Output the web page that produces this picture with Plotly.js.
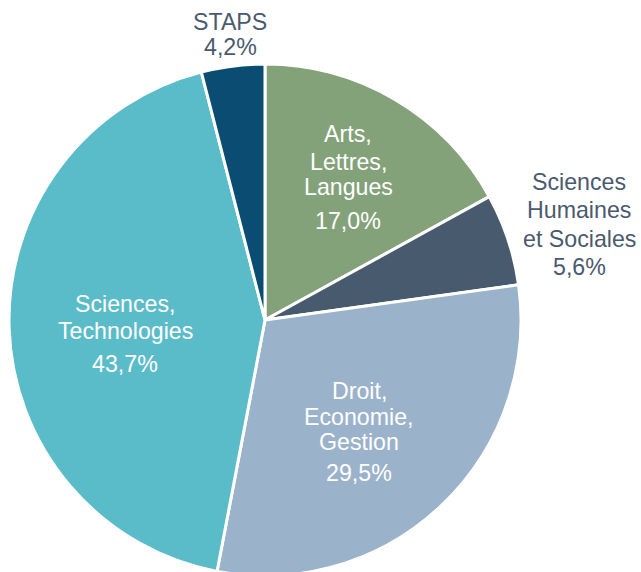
<!DOCTYPE html>
<html><head><meta charset="utf-8">
<script src="https://cdn.plot.ly/plotly-3.0.1.min.js"></script>
<style>html,body{margin:0;padding:0;overflow:hidden;background:#fff}</style>
</head><body><div id="chart"></div>
<script>
// Categories in drawing order (clockwise from 12 o'clock)
const categories = ["Arts, Lettres, Langues", "Sciences Humaines et Sociales", "Droit, Economie, Gestion", "Sciences, Technologies", "STAPS"];
const labelLines = [["Arts,", "Lettres,", "Langues"], ["Sciences", "Humaines", "et Sociales"], ["Droit,", "Economie,", "Gestion"], ["Sciences,", "Technologies"], ["STAPS"]];
const values = [17.0, 5.8, 30.2, 43.0, 4.0];
// percentages as printed on the chart
const percentText = ["17,0%", "5,6%", "29,5%", "43,7%", "4,2%"];
const colors = ["#84a27a", "#475a6e", "#9bb2cb", "#5bbcc9", "#0b4c73"];
const textColors = ["#ffffff", "#4a5a6e", "#ffffff", "#ffffff", "#4a5a6e"];

const W = 641, H = 580;
// label layout (pixels): x center, y of each name line, y of percent line
const labelX = [348, 579, 359, 125, 230];
const nameLineY = [[134, 161.7, 187], [182, 210.5, 238.7], [391.3, 417, 442], [303.5, 331], [22.3]];
const pctY = [221.3, 266.7, 473, 364, 47.5];

const FONT = "Liberation Sans, Arial, sans-serif";
const FS = 23.2;
const annotations = [];
function addText(txt, px, py, color) {
  annotations.push({
    text: txt, xref: "paper", yref: "paper",
    x: px / W, y: 1 - py / H, xanchor: "center", yanchor: "middle",
    showarrow: false, borderpad: 0, font: {family: FONT, size: FS, color: color}
  });
}
categories.forEach((c, i) => {
  labelLines[i].forEach((ln, j) => addText(ln, labelX[i], nameLineY[i][j], textColors[i]));
  addText(percentText[i], labelX[i], pctY[i], textColors[i]);
});

const trace = {
  type: "pie", labels: categories, values: values, sort: false, direction: "clockwise", rotation: 0,
  marker: {colors: colors, line: {color: "#ffffff", width: 3}},
  textinfo: "none", hoverinfo: "label+percent", showlegend: false,
  domain: {x: [9 / W, 521 / W], y: [(H - 576) / H, (H - 64) / H]}
};

Plotly.newPlot("chart", [trace], {
  width: W, height: H, margin: {l: 0, r: 0, t: 0, b: 0},
  paper_bgcolor: "#ffffff", plot_bgcolor: "#ffffff", showlegend: false,
  annotations: annotations
}, {displayModeBar: false, staticPlot: true});
</script></body></html>
